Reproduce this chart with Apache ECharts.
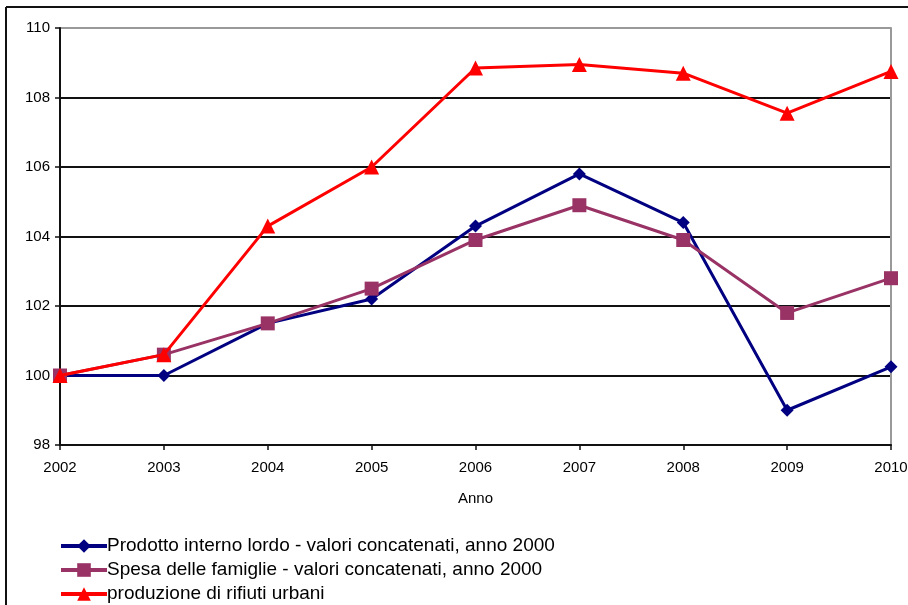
<!DOCTYPE html>
<html>
<head>
<meta charset="utf-8">
<style>
  html, body { margin: 0; padding: 0; background: #fff; }
  #chart { width: 908px; height: 605px; }
</style>
<script src="https://cdn.jsdelivr.net/npm/echarts@6/dist/echarts.min.js"></script>
</head>
<body>
<div id="chart"></div>
<script>
// Years on the horizontal axis
const anni = ['2002', '2003', '2004', '2005', '2006', '2007', '2008', '2009', '2010'];

// Index numbers, 2002 = 100
const pil = [100, 100, 101.5, 102.2, 104.3, 105.8, 104.4, 99.0, 100.25];
const spesa = [100, 100.6, 101.5, 102.5, 103.9, 104.9, 103.9, 101.8, 102.8];
const rifiuti = [100, 100.6, 104.3, 106.0, 108.85, 108.95, 108.7, 107.55, 108.75];

const nomi = [
  'Prodotto interno lordo - valori concatenati, anno 2000',
  'Spesa delle famiglie - valori concatenati, anno 2000',
  'produzione di rifiuti urbani'
];

const FONT = '"Liberation Sans", Arial, sans-serif';

const chart = echarts.init(document.getElementById('chart'));

chart.setOption({
  backgroundColor: '#fff',
  animation: false,
  textStyle: { fontFamily: FONT },
  graphic: [
    // outer frame (top and left edges)
    { type: 'line', shape: { x1: 6, y1: 7, x2: 908, y2: 7 }, style: { stroke: '#111', lineWidth: 2 } },
    { type: 'line', shape: { x1: 6, y1: 7, x2: 6, y2: 605 }, style: { stroke: '#111', lineWidth: 2 } }
  ],
  grid: { left: 60, right: 17, top: 28, bottom: 160, containLabel: false, outerBoundsMode: 'none' },
  legend: {
    orient: 'vertical',
    left: 59,
    top: 536,
    height: 90,
    padding: 0,
    itemWidth: 46,
    itemHeight: 17,
    itemGap: 4,
    lineStyle: { width: 4 },
    textStyle: { fontFamily: FONT, fontSize: 19, lineHeight: 20, color: '#000', padding: [0, 0, 0, -5] },
    data: nomi
  },
  xAxis: {
    type: 'category',
    data: anni,
    boundaryGap: false,
    name: 'Anno',
    nameLocation: 'middle',
    nameGap: 46,
    nameTextStyle: { fontFamily: FONT, fontSize: 15, color: '#000' },
    axisLine: { lineStyle: { color: '#111', width: 2 } },
    axisTick: { show: true, length: 5, lineStyle: { color: '#111', width: 1.5 } },
    axisLabel: { fontFamily: FONT, fontSize: 15, color: '#000', margin: 15 },
    splitLine: { show: false }
  },
  yAxis: [
    {
      type: 'value',
      min: 98,
      max: 110,
      interval: 2,
      axisLine: { show: true, lineStyle: { color: '#111', width: 2 } },
      axisTick: { show: true, length: 5, lineStyle: { color: '#111', width: 1.5 } },
      axisLabel: { fontFamily: FONT, fontSize: 15, color: '#000', margin: 10 },
      splitLine: {
        show: true,
        lineStyle: { color: ['#111', '#111', '#111', '#111', '#111', '#111', '#999'], width: 2 }
      }
    },
    {
      type: 'value',
      position: 'right',
      min: 98,
      max: 110,
      interval: 2,
      axisLine: { show: true, lineStyle: { color: '#999', width: 2 } },
      axisTick: { show: false },
      axisLabel: { show: false },
      splitLine: { show: false }
    }
  ],
  series: [
    {
      name: nomi[0],
      type: 'line',
      data: pil,
      symbol: 'diamond',
      symbolSize: 13,
      showAllSymbol: true,
      lineStyle: { color: '#000080', width: 3 },
      itemStyle: { color: '#000080' },
      z: 2
    },
    {
      name: nomi[1],
      type: 'line',
      data: spesa,
      symbol: 'rect',
      symbolSize: 14,
      showAllSymbol: true,
      lineStyle: { color: '#993366', width: 3 },
      itemStyle: { color: '#993366' },
      z: 3
    },
    {
      name: nomi[2],
      type: 'line',
      data: rifiuti,
      symbol: 'triangle',
      symbolSize: 15,
      showAllSymbol: true,
      lineStyle: { color: '#ff0000', width: 3 },
      itemStyle: { color: '#ff0000' },
      z: 4
    }
  ]
});
</script>
</body>
</html>
